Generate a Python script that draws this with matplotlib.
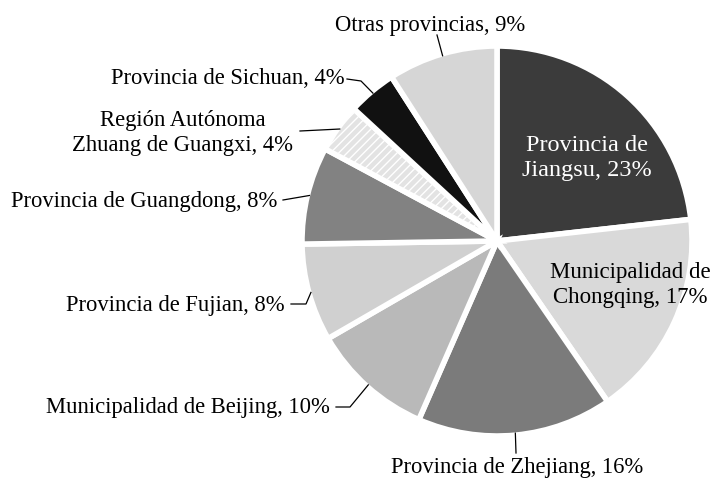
import numpy as np
import matplotlib
matplotlib.use('Agg')
import matplotlib.pyplot as plt

# data
labels = ['Provincia de\nJiangsu, 23%', 'Municipalidad de\nChongqing, 17%', 'Provincia de Zhejiang, 16%',
          'Municipalidad de Beijing, 10%', 'Provincia de Fujian, 8%', 'Provincia de Guangdong, 8%',
          'Región Autónoma\nZhuang de Guangxi, 4%', 'Provincia de Sichuan, 4%', 'Otras provincias, 9%']
shares = [23, 17, 16, 10, 8, 8, 4, 4, 9]
colors = ['#3b3b3b', '#d9d9d9', '#7b7b7b', '#b9b9b9', '#d0d0d0', '#828282', '#e3e3e3', '#111111', '#d6d6d6']
hatches = [None, None, None, None, None, None, '////', None, None]

plt.rcParams['font.family'] = ['Liberation Serif', 'DejaVu Serif']
plt.rcParams['hatch.color'] = '#c4c4c4'
fig = plt.figure(figsize=(7.13, 4.83), dpi=100)
ax = fig.add_axes([0, 0, 1, 1])

cx, cy, r = 497, 242, 195
wedges, _ = ax.pie(shares, colors=colors, startangle=90, counterclock=False,
                   center=(cx, cy), radius=r,
                   wedgeprops=dict(edgecolor='white', linewidth=4))
for w, h in zip(wedges, hatches):
    if h:
        w.set_hatch(h)

ax.set_xlim(0, 713)
ax.set_ylim(0, 483)
ax.set_aspect('equal')
ax.axis('off')

fs = 16.3

def rim(i, rr=1.0):
    w = wedges[i]
    a = np.deg2rad((w.theta1 + w.theta2) / 2)
    return cx + r * rr * np.cos(a), cy + r * rr * np.sin(a)

# inside labels
ax.text(587, 325, labels[0], ha='center', va='center', color='white', fontsize=17.5, linespacing=1.25)
ax.text(630, 198, labels[1], ha='center', va='center', color='black', fontsize=16.5, linespacing=1.3)

# outside labels: (text x, text y, ha, elbow points)
outside = {
    2: (517, 16, 'center', [(516, 30)]),
    3: (330, 75, 'right', [(336, 76), (350, 76)]),
    4: (285, 178, 'right', [(291, 179), (306, 179)]),
    5: (277, 281, 'right', [(283, 283)]),
    6: (183, 350, 'center', [(300, 352)]),
    7: (345, 405, 'right', [(347, 404), (361, 402)]),
    8: (430, 458, 'center', [(437, 448)]),
}
for i, (tx, ty, ha, pts) in outside.items():
    ax.text(tx, ty, labels[i], ha=ha, va='center', fontsize=fs, linespacing=1.3)
    px, py = rim(i, 0.99)
    line = pts + [(px, py)]
    ax.plot([p[0] for p in line], [p[1] for p in line], color='black', lw=0.9)

fig.savefig('out.png', dpi=100)
